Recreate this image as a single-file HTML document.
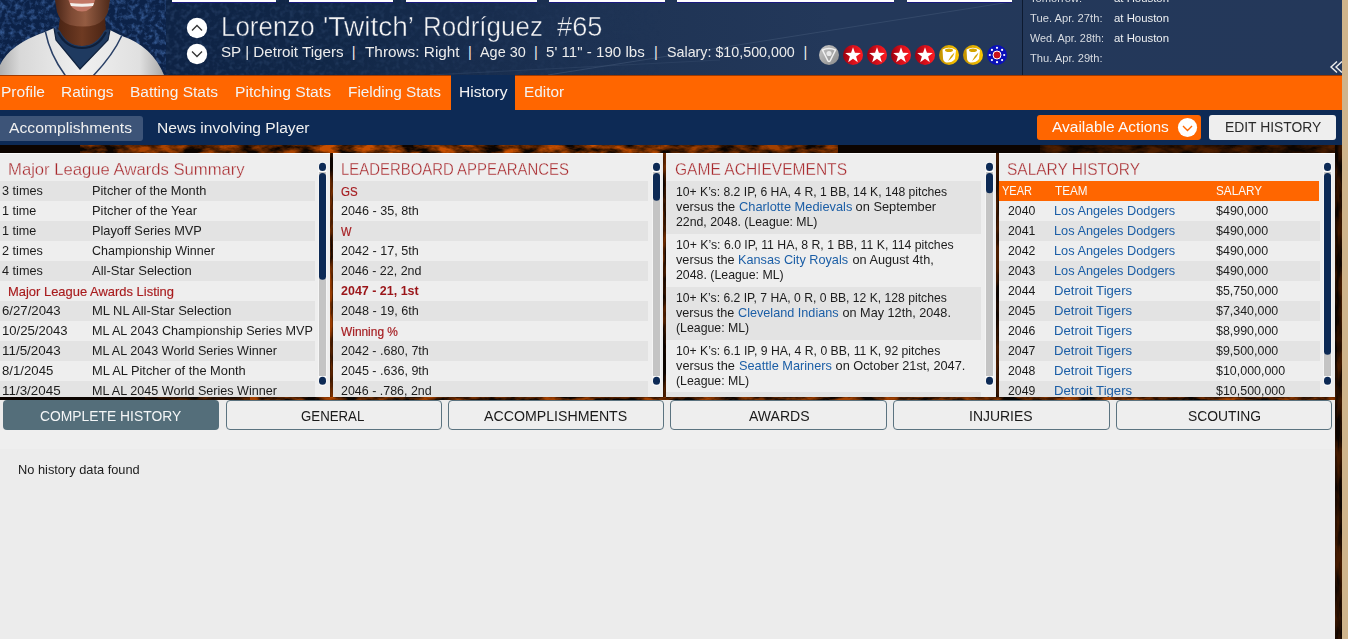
<!DOCTYPE html>
<html><head><meta charset="utf-8"><style>
html,body{margin:0;padding:0;width:1348px;height:639px;overflow:hidden;background:#eeeeee;font-family:"Liberation Sans",sans-serif;}
.r{position:absolute;}
.t{position:absolute;white-space:pre;line-height:1;transform-origin:0 0;}
.d{}
</style></head><body>
<div class="r" style="left:0px;top:0px;width:1342px;height:75px;background:linear-gradient(90deg,#0e2345 0%,#0e2345 13%,#112747 25%,#172c4d 35%,#1f3455 48%,#23385a 62%,#24385a 100%);"></div>
<svg class="r" style="left:0;top:0" width="1342" height="75" viewBox="0 0 1342 75">
<defs>
<radialGradient id="cr" cx="50%" cy="50%" r="50%"><stop offset="0" stop-color="#3a5f95" stop-opacity=".55"/><stop offset="1" stop-color="#3a5f95" stop-opacity="0"/></radialGradient>
</defs>

<defs><filter id="hn" x="0" y="0" width="100%" height="100%" color-interpolation-filters="sRGB"><feTurbulence type="fractalNoise" baseFrequency="0.2" numOctaves="2" seed="5"/><feColorMatrix type="matrix" values="0 0 0 0 0.3  0 0 0 0 0.42  0 0 0 0 0.6  0.9 0 0 0 -0.4"/></filter><linearGradient id="hm" x1="0" x2="1"><stop offset="0" stop-color="#fff" stop-opacity=".9"/><stop offset="1" stop-color="#fff" stop-opacity="0"/></linearGradient><mask id="hmask"><rect x="166" y="0" width="500" height="75" fill="url(#hm)"/></mask></defs><g mask="url(#hmask)"><rect x="166" y="0" width="500" height="75" filter="url(#hn)"/></g><path d="M548 75 L1010 2" stroke="#3b5070" stroke-width="1" opacity=".7"/>
<path d="M430 75 L720 60" stroke="#3b5070" stroke-width="1" opacity=".4"/>
</svg>
<svg class="r" style="left:0;top:0" width="170" height="75" viewBox="0 0 170 75">
<defs>
<filter id="crowd" x="0" y="0" width="100%" height="100%" color-interpolation-filters="sRGB">
<feTurbulence type="fractalNoise" baseFrequency="0.2" numOctaves="3" seed="3"/>
<feColorMatrix type="matrix" values="0 0 0 0 0.2  0 0 0 0 0.34  0 0 0 0 0.56  2.6 0 0 0 -1.15"/>
</filter>
<linearGradient id="skin" x1="0" x2="1"><stop offset="0" stop-color="#4a2618"/><stop offset=".3" stop-color="#7e4a34"/><stop offset=".55" stop-color="#945c42"/><stop offset="1" stop-color="#4e2a1a"/></linearGradient>
<linearGradient id="neck" x1="0" x2="1"><stop offset="0" stop-color="#4a2414"/><stop offset=".5" stop-color="#6e3a22"/><stop offset="1" stop-color="#4a2414"/></linearGradient>
<linearGradient id="jer" x1="0" x2="1"><stop offset="0" stop-color="#b0b0b0"/><stop offset=".12" stop-color="#d8d8d8"/><stop offset=".5" stop-color="#f0f0f0"/><stop offset=".85" stop-color="#e0e0e0"/><stop offset="1" stop-color="#a8a8a8"/></linearGradient>
</defs>
<rect x="0" y="0" width="166" height="75" fill="#0c2248"/>
<rect x="0" y="0" width="166" height="75" filter="url(#crowd)" opacity="1"/>
<path d="M60 18 L105 18 L106 32 Q98 46 82 46 Q66 46 58 32 Z" fill="url(#neck)"/>
<path d="M55 0 L110 0 L108 12 Q104 22 95 25 Q84 28 70 25 Q60 22 57 12 Z" fill="url(#skin)"/>
<path d="M68.5 0 L95 0 Q93 11 82 11.5 Q71 11 68.5 0 Z" fill="#c27866"/>
<path d="M70 3 Q82 4.5 94 3 L93 6 Q82 7.5 71 6 Z" fill="#f4f0ec"/>
<path d="M54 30 Q58 28 60 31 Q68 46 82 46 Q96 46 104 31 Q107 28 110 30 L108 40 L80 69 L56 40 Z" fill="#1f3a60"/>
<path d="M58 32 Q66 48 82 48 Q98 48 106 32" stroke="#0e1f3a" stroke-width="2.2" fill="none"/>
<path d="M0 75 L0 65 Q10 44 45 32 L54 28 L56 40 L80 69 L108 40 L110 30 L122 36 Q152 46 164 75 Z" fill="url(#jer)"/>
<path d="M54 28 L56 40 L80 69 L108 40 L110 30" fill="none" stroke="#10223e" stroke-width="1.2"/>
<path d="M45.5 32 Q50 55 65.7 76" stroke="#2a4066" stroke-width="1.5" fill="none"/>
<path d="M121.6 36 Q113 55 93 76" stroke="#2a4066" stroke-width="1.5" fill="none"/>
</svg>
<div class="r" style="left:172px;top:0px;width:104px;height:1.5px;background:#ffffff;border-bottom:1px solid #1a1a80;"></div>
<div class="r" style="left:289px;top:0px;width:104px;height:1.5px;background:#ffffff;border-bottom:1px solid #1a1a80;"></div>
<div class="r" style="left:406px;top:0px;width:131px;height:1.5px;background:#ffffff;border-bottom:1px solid #1a1a80;"></div>
<div class="r" style="left:549px;top:0px;width:116px;height:1.5px;background:#ffffff;border-bottom:1px solid #1a1a80;"></div>
<div class="r" style="left:677px;top:0px;width:217px;height:1.5px;background:#ffffff;border-bottom:1px solid #1a1a80;"></div>
<div class="r" style="left:907px;top:0px;width:105px;height:1.5px;background:#ffffff;border-bottom:1px solid #1a1a80;"></div>
<svg class="r" style="left:186px;top:17px" width="23" height="48" viewBox="0 0 23 48">
<circle cx="11" cy="11" r="10.2" fill="#fff"/><path d="M6 13.5 L11 8.5 L16 13.5" stroke="#333" stroke-width="1.3" fill="none"/>
<circle cx="11" cy="37" r="10.2" fill="#fff"/><path d="M6 34.5 L11 39.5 L16 34.5" stroke="#333" stroke-width="1.3" fill="none"/>
</svg>
<div class="t" style="left:221.00px;top:13.74px;font-size:27px;color:#f4f4f4;transform:scaleX(0.9603);-webkit-text-stroke:0.5px #1a2f52;">Lorenzo</div>
<div class="t" style="left:323.00px;top:13.74px;font-size:27px;color:#f4f4f4;transform:scaleX(1.0380);-webkit-text-stroke:0.5px #1a2f52;">&#x27;Twitch’</div>
<div class="t" style="left:422.50px;top:13.74px;font-size:27px;color:#f4f4f4;transform:scaleX(0.9633);-webkit-text-stroke:0.5px #1a2f52;">Rodríguez</div>
<div class="t" style="left:556.60px;top:13.74px;font-size:27px;color:#f4f4f4;transform:scaleX(1.0078);-webkit-text-stroke:0.5px #1a2f52;">#65</div>
<div class="t" style="left:221.00px;top:45.03px;font-size:14.5px;color:#ececec;transform:scaleX(1.0467);">SP | Detroit Tigers</div>
<div class="t" style="left:365.20px;top:45.03px;font-size:14.5px;color:#ececec;transform:scaleX(1.0577);">Throws: Right</div>
<div class="t" style="left:480.30px;top:45.03px;font-size:14.5px;color:#ececec;transform:scaleX(0.9944);">Age 30</div>
<div class="t" style="left:546.20px;top:45.03px;font-size:14.5px;color:#ececec;transform:scaleX(1.0433);">5&#x27; 11&quot; - 190 lbs</div>
<div class="t" style="left:666.70px;top:45.03px;font-size:14.5px;color:#ececec;transform:scaleX(0.9847);">Salary: $10,500,000</div>
<div class="t" style="left:351.70px;top:45.03px;font-size:14.5px;color:#ececec;transform:scaleX(1.0000);">|</div>
<div class="t" style="left:468.10px;top:45.03px;font-size:14.5px;color:#ececec;transform:scaleX(1.0000);">|</div>
<div class="t" style="left:533.90px;top:45.03px;font-size:14.5px;color:#ececec;transform:scaleX(1.0000);">|</div>
<div class="t" style="left:654.10px;top:45.03px;font-size:14.5px;color:#ececec;transform:scaleX(1.0000);">|</div>
<div class="t" style="left:803.60px;top:45.03px;font-size:14.5px;color:#ececec;transform:scaleX(1.0000);">|</div>
<svg class="r" style="left:0;top:0" width="1342" height="75" viewBox="0 0 1342 75">
<defs><linearGradient id="rg" x1="0" x2="1"><stop offset="0" stop-color="#9a0010"/><stop offset=".5" stop-color="#d8101a"/><stop offset="1" stop-color="#ff1c22"/></linearGradient>
<linearGradient id="yg" x1="0" x2="1"><stop offset="0" stop-color="#c09000"/><stop offset="1" stop-color="#ffc800"/></linearGradient>
<linearGradient id="gg" x1="0" y1="0" x2="1" y2="1"><stop offset="0" stop-color="#c8c8c8"/><stop offset="1" stop-color="#8a8a8a"/></linearGradient></defs>
<circle cx="829" cy="55" r="10" fill="url(#gg)"/><path d="M822.5 50 Q829 47 835.5 50 L830 61 Q829 62 828 61 Z" fill="none" stroke="#f0f0f0" stroke-width="1.5"/><circle cx="829" cy="53.5" r="2.6" fill="#e8e8e8"/><circle cx="853" cy="55" r="10" fill="url(#rg)"/><path d="M853.00,47.30 L854.93,52.85 L860.80,52.97 L856.12,56.51 L857.82,62.13 L853.00,58.78 L848.18,62.13 L849.88,56.51 L845.20,52.97 L851.07,52.85Z" fill="#fff"/><circle cx="877" cy="55" r="10" fill="url(#rg)"/><path d="M877.00,47.30 L878.93,52.85 L884.80,52.97 L880.12,56.51 L881.82,62.13 L877.00,58.78 L872.18,62.13 L873.88,56.51 L869.20,52.97 L875.07,52.85Z" fill="#fff"/><circle cx="901" cy="55" r="10" fill="url(#rg)"/><path d="M901.00,47.30 L902.93,52.85 L908.80,52.97 L904.12,56.51 L905.82,62.13 L901.00,58.78 L896.18,62.13 L897.88,56.51 L893.20,52.97 L899.07,52.85Z" fill="#fff"/><circle cx="925" cy="55" r="10" fill="url(#rg)"/><path d="M925.00,47.30 L926.93,52.85 L932.80,52.97 L928.12,56.51 L929.82,62.13 L925.00,58.78 L920.18,62.13 L921.88,56.51 L917.20,52.97 L923.07,52.85Z" fill="#fff"/><circle cx="949" cy="55" r="10" fill="url(#yg)"/><path d="M942.5 49.5 Q949 46 956 50 L955 59 Q952 63 946 62.5 Q943 61 943 58 Z" fill="#fff"/><ellipse cx="949" cy="50.2" rx="4" ry="1.8" fill="#d4a400"/><path d="M954.5 52.5 Q953 58 948 61 Q950 56 954.5 52.5 Z" fill="#d4a400"/><circle cx="973" cy="55" r="10" fill="url(#yg)"/><path d="M966.5 49.5 Q973 46 980 50 L979 59 Q976 63 970 62.5 Q967 61 967 58 Z" fill="#fff"/><ellipse cx="973" cy="50.2" rx="4" ry="1.8" fill="#d4a400"/><path d="M978.5 52.5 Q977 58 972 61 Q974 56 978.5 52.5 Z" fill="#d4a400"/><circle cx="997" cy="55" r="10" fill="#0a10b8"/><circle cx="997" cy="55" r="4" fill="#c8101a" stroke="#fff" stroke-width="1"/><circle cx="1004.20" cy="55.00" r="1.1" fill="#fff"/><circle cx="1002.09" cy="60.09" r="1.1" fill="#fff"/><circle cx="997.00" cy="62.20" r="1.1" fill="#fff"/><circle cx="991.91" cy="60.09" r="1.1" fill="#fff"/><circle cx="989.80" cy="55.00" r="1.1" fill="#fff"/><circle cx="991.91" cy="49.91" r="1.1" fill="#fff"/><circle cx="997.00" cy="47.80" r="1.1" fill="#fff"/><circle cx="1002.09" cy="49.91" r="1.1" fill="#fff"/>
<path d="M1022.5 0 V75" stroke="#0d1a30" stroke-width="1"/>
<path d="M1337 61.5 L1331 67 L1337 72.5 M1342 61.5 L1336 67 L1342 72.5" stroke="#eeeeee" stroke-width="1.4" fill="none"/>
</svg>
<div class="t" style="left:1030.20px;top:-7.43px;font-size:11.5px;color:#d8dce2;transform:scaleX(0.9700);">Tomorrow:</div>
<div class="t" style="left:1114.00px;top:-7.43px;font-size:11.5px;color:#eef0f2;transform:scaleX(0.9888);">at Houston</div>
<div class="t" style="left:1030.20px;top:12.57px;font-size:11.5px;color:#d8dce2;transform:scaleX(0.9747);">Tue. Apr. 27th:</div>
<div class="t" style="left:1114.00px;top:12.57px;font-size:11.5px;color:#eef0f2;transform:scaleX(0.9888);">at Houston</div>
<div class="t" style="left:1030.20px;top:32.57px;font-size:11.5px;color:#d8dce2;transform:scaleX(0.9436);">Wed. Apr. 28th:</div>
<div class="t" style="left:1114.00px;top:32.57px;font-size:11.5px;color:#eef0f2;transform:scaleX(0.9888);">at Houston</div>
<div class="t" style="left:1030.20px;top:52.57px;font-size:11.5px;color:#d8dce2;transform:scaleX(0.9692);">Thu. Apr. 29th:</div>
<div class="r" style="left:0px;top:75px;width:1342px;height:1px;background:#a03a00;"></div>
<div class="r" style="left:0px;top:76px;width:1342px;height:34px;background:#ff6600;"></div>
<div class="r" style="left:451px;top:75px;width:64px;height:35px;background:#0d2a55;"></div>
<div class="t" style="left:0.50px;top:83.78px;font-size:15.5px;color:#f4f4f4;transform:scaleX(1.0015);">Profile</div>
<div class="t" style="left:61.00px;top:83.78px;font-size:15.5px;color:#f4f4f4;transform:scaleX(0.9990);">Ratings</div>
<div class="t" style="left:130.00px;top:83.78px;font-size:15.5px;color:#f4f4f4;transform:scaleX(1.0013);">Batting Stats</div>
<div class="t" style="left:235.00px;top:83.78px;font-size:15.5px;color:#f4f4f4;transform:scaleX(1.0130);">Pitching Stats</div>
<div class="t" style="left:348.00px;top:83.78px;font-size:15.5px;color:#f4f4f4;transform:scaleX(0.9903);">Fielding Stats</div>
<div class="t" style="left:458.50px;top:83.78px;font-size:15.5px;color:#f4f4f4;transform:scaleX(1.0057);">History</div>
<div class="t" style="left:524.00px;top:83.78px;font-size:15.5px;color:#f4f4f4;transform:scaleX(0.9879);">Editor</div>
<div class="r" style="left:0px;top:110px;width:1342px;height:35px;background:#0d2a55;"></div>
<div class="r" style="left:0px;top:116px;width:143px;height:25px;background:#3d5478;border-radius:0 3px 3px 0;"></div>
<div class="t" style="left:8.60px;top:119.88px;font-size:15.5px;color:#f0f0f0;transform:scaleX(1.0127);">Accomplishments</div>
<div class="t" style="left:156.70px;top:119.88px;font-size:15.5px;color:#f0f0f0;transform:scaleX(1.0058);">News involving Player</div>
<div class="r" style="left:1037px;top:115px;width:164px;height:25px;background:#ff6600;border-radius:3px;"></div>
<div class="t" style="left:1052.40px;top:118.88px;font-size:15.5px;color:#fafafa;transform:scaleX(0.9991);">Available Actions</div>
<svg class="r" style="left:1177px;top:117px" width="21" height="21" viewBox="0 0 21 21"><circle cx="10.5" cy="10.5" r="9.6" fill="#fff"/><path d="M6 9 L10.5 13.5 L15 9" stroke="#ff6600" stroke-width="1.4" fill="none"/></svg>
<div class="r" style="left:1209px;top:115px;width:127px;height:25px;background:#eeeeee;border-radius:3px;"></div>
<div class="t" style="left:1224.60px;top:118.88px;font-size:15.5px;color:#2a2a2a;transform:scaleX(0.8944);">EDIT HISTORY</div>
<div class="r" style="left:0px;top:145px;width:1342px;height:494px;background:#0c0400;"></div>
<svg class="r" style="left:0;top:145px" width="1342" height="494" viewBox="0 0 1342 494">
<defs>
<filter id="wf7" x="0" y="0" width="100%" height="100%" filterUnits="objectBoundingBox" color-interpolation-filters="sRGB"><feTurbulence type="fractalNoise" baseFrequency="0.05 0.12" numOctaves="4" seed="7"/><feColorMatrix type="matrix" values="0 0 0 0 0.78  0 0 0 0 0.31  0 0 0 0 0  2.4 0 0 0 -0.75"/></filter>
<filter id="wf8" x="0" y="0" width="100%" height="100%" filterUnits="objectBoundingBox" color-interpolation-filters="sRGB"><feTurbulence type="fractalNoise" baseFrequency="0.15 0.03" numOctaves="4" seed="8"/><feColorMatrix type="matrix" values="0 0 0 0 0.78  0 0 0 0 0.31  0 0 0 0 0  2.4 0 0 0 -0.75"/></filter>
<filter id="wf9" x="0" y="0" width="100%" height="100%" filterUnits="objectBoundingBox" color-interpolation-filters="sRGB"><feTurbulence type="fractalNoise" baseFrequency="0.05 0.15" numOctaves="4" seed="9"/><feColorMatrix type="matrix" values="0 0 0 0 0.78  0 0 0 0 0.31  0 0 0 0 0  2.4 0 0 0 -0.75"/></filter>
</defs>
<rect x="80" y="0" width="240" height="8" fill="#c85000" filter="url(#wf7)" opacity="0.85"/><rect x="320" y="0" width="340" height="8" fill="#c85000" filter="url(#wf7)" opacity="1.0"/><rect x="660" y="0" width="178" height="8" fill="#c85000" filter="url(#wf7)" opacity="0.8"/><rect x="1040" y="0" width="295" height="8" fill="#c85000" filter="url(#wf7)" opacity="0.35"/><rect x="330" y="8" width="3" height="245" fill="#c85000" filter="url(#wf8)" opacity="0.75"/><rect x="663" y="8" width="3" height="245" fill="#c85000" filter="url(#wf8)" opacity="0.6"/><rect x="996" y="8" width="3" height="245" fill="#c85000" filter="url(#wf8)" opacity="0.35"/><rect x="145" y="252" width="105" height="3" fill="#c85000" filter="url(#wf9)" opacity="0.4"/><rect x="250" y="252" width="1085" height="3" fill="#c85000" filter="url(#wf9)" opacity="0.8"/><rect x="1335" y="0" width="7" height="494" fill="#c85000" filter="url(#wf8)" opacity="0.3"/>
</svg>
<div class="r" style="left:0px;top:153px;width:330px;height:244px;background:#eeeeee;border-top:1px solid #fbfbfb;box-sizing:border-box;"></div>
<div class="r" style="left:333px;top:153px;width:330px;height:244px;background:#eeeeee;border-top:1px solid #fbfbfb;box-sizing:border-box;"></div>
<div class="r" style="left:666px;top:153px;width:330px;height:244px;background:#eeeeee;border-top:1px solid #fbfbfb;box-sizing:border-box;"></div>
<div class="r" style="left:999px;top:153px;width:336px;height:244px;background:#eeeeee;border-top:1px solid #fbfbfb;box-sizing:border-box;"></div>
<svg class="r" style="left:318.3px;top:162px" width="9" height="225" viewBox="0 0 9 225">
<rect x="0.5" y="0" width="8" height="224" rx="4" fill="#fbfbfb"/>
<rect x="1" y="10" width="7" height="204" fill="#c4c4c4"/>
<rect x="1" y="0.8" width="7" height="8.2" rx="3.5" fill="#0d2a55"/>
<rect x="1" y="11" width="7" height="106.8" rx="3.5" fill="#0d2a55"/>
<rect x="1" y="214.8" width="7" height="8" rx="3.5" fill="#0d2a55"/>
</svg>
<svg class="r" style="left:651.5px;top:162px" width="9" height="225" viewBox="0 0 9 225">
<rect x="0.5" y="0" width="8" height="224" rx="4" fill="#fbfbfb"/>
<rect x="1" y="10" width="7" height="204" fill="#c4c4c4"/>
<rect x="1" y="0.8" width="7" height="8.2" rx="3.5" fill="#0d2a55"/>
<rect x="1" y="11" width="7" height="27.8" rx="3.5" fill="#0d2a55"/>
<rect x="1" y="214.8" width="7" height="8" rx="3.5" fill="#0d2a55"/>
</svg>
<svg class="r" style="left:984.5px;top:162px" width="9" height="225" viewBox="0 0 9 225">
<rect x="0.5" y="0" width="8" height="224" rx="4" fill="#fbfbfb"/>
<rect x="1" y="10" width="7" height="204" fill="#c4c4c4"/>
<rect x="1" y="0.8" width="7" height="8.2" rx="3.5" fill="#0d2a55"/>
<rect x="1" y="11" width="7" height="20.3" rx="3.5" fill="#0d2a55"/>
<rect x="1" y="214.8" width="7" height="8" rx="3.5" fill="#0d2a55"/>
</svg>
<svg class="r" style="left:1323.3px;top:162px" width="9" height="225" viewBox="0 0 9 225">
<rect x="0.5" y="0" width="8" height="224" rx="4" fill="#fbfbfb"/>
<rect x="1" y="10" width="7" height="204" fill="#c4c4c4"/>
<rect x="1" y="0.8" width="7" height="8.2" rx="3.5" fill="#0d2a55"/>
<rect x="1" y="11" width="7" height="181.8" rx="3.5" fill="#0d2a55"/>
<rect x="1" y="214.8" width="7" height="8" rx="3.5" fill="#0d2a55"/>
</svg>
<div class="t" style="left:8.10px;top:160.81px;font-size:17px;color:#a82a2e;transform:scaleX(0.9798);-webkit-text-stroke:0.3px #eeeeee;">Major League Awards Summary</div>
<div class="r" style="left:0;top:153px;width:330px;height:244px;overflow:hidden">
<div class="r" style="left:0px;top:28px;width:315px;height:20px;background:#e3e3e3;"></div>
<div class="t" style="left:2.30px;top:30.90px;font-size:13px;color:#1c1c1c;transform:scaleX(0.9737);">3 times</div>
<div class="t" style="left:92.30px;top:30.90px;font-size:13px;color:#1c1c1c;transform:scaleX(0.9825);">Pitcher of the Month</div>
<div class="t" style="left:2.30px;top:50.90px;font-size:13px;color:#1c1c1c;transform:scaleX(0.9689);">1 time</div>
<div class="t" style="left:92.30px;top:50.90px;font-size:13px;color:#1c1c1c;transform:scaleX(0.9874);">Pitcher of the Year</div>
<div class="r" style="left:0px;top:68px;width:315px;height:20px;background:#e3e3e3;"></div>
<div class="t" style="left:2.30px;top:70.90px;font-size:13px;color:#1c1c1c;transform:scaleX(0.9689);">1 time</div>
<div class="t" style="left:92.30px;top:70.90px;font-size:13px;color:#1c1c1c;transform:scaleX(0.9826);">Playoff Series MVP</div>
<div class="t" style="left:2.30px;top:90.90px;font-size:13px;color:#1c1c1c;transform:scaleX(0.9737);">2 times</div>
<div class="t" style="left:92.30px;top:90.90px;font-size:13px;color:#1c1c1c;transform:scaleX(0.9602);">Championship Winner</div>
<div class="r" style="left:0px;top:108px;width:315px;height:20px;background:#e3e3e3;"></div>
<div class="t" style="left:2.30px;top:110.90px;font-size:13px;color:#1c1c1c;transform:scaleX(0.9737);">4 times</div>
<div class="t" style="left:92.30px;top:110.90px;font-size:13px;color:#1c1c1c;transform:scaleX(0.9999);">All-Star Selection</div>
<div class="t" style="left:8.10px;top:131.50px;font-size:13px;color:#a81c1e;transform:scaleX(0.9959);-webkit-text-stroke:0.15px #a81c1e;">Major League Awards Listing</div>
<div class="r" style="left:0px;top:148px;width:315px;height:20px;background:#e3e3e3;"></div>
<div class="t" style="left:2.30px;top:150.90px;font-size:13px;color:#1c1c1c;transform:scaleX(1.0150);">6/27/2043</div>
<div class="t" style="left:92.30px;top:150.90px;font-size:13px;color:#1c1c1c;transform:scaleX(0.9970);">ML NL All-Star Selection</div>
<div class="t" style="left:2.30px;top:170.90px;font-size:13px;color:#1c1c1c;transform:scaleX(1.0083);">10/25/2043</div>
<div class="t" style="left:92.30px;top:170.90px;font-size:13px;color:#1c1c1c;transform:scaleX(0.9711);">ML AL 2043 Championship Series MVP</div>
<div class="r" style="left:0px;top:188px;width:315px;height:20px;background:#e3e3e3;"></div>
<div class="t" style="left:2.30px;top:190.90px;font-size:13px;color:#1c1c1c;transform:scaleX(1.0322);">11/5/2043</div>
<div class="t" style="left:92.30px;top:190.90px;font-size:13px;color:#1c1c1c;transform:scaleX(0.9686);">ML AL 2043 World Series Winner</div>
<div class="t" style="left:2.30px;top:210.90px;font-size:13px;color:#1c1c1c;transform:scaleX(1.0158);">8/1/2045</div>
<div class="t" style="left:92.30px;top:210.90px;font-size:13px;color:#1c1c1c;transform:scaleX(0.9863);">ML AL Pitcher of the Month</div>
<div class="r" style="left:0px;top:228px;width:315px;height:20px;background:#e3e3e3;"></div>
<div class="t" style="left:2.30px;top:230.90px;font-size:13px;color:#1c1c1c;transform:scaleX(1.0322);">11/3/2045</div>
<div class="t" style="left:92.30px;top:230.90px;font-size:13px;color:#1c1c1c;transform:scaleX(0.9686);">ML AL 2045 World Series Winner</div>
</div>
<div class="t" style="left:341.30px;top:160.61px;font-size:17px;color:#a82a2e;transform:scaleX(0.8776);-webkit-text-stroke:0.3px #eeeeee;">LEADERBOARD APPEARANCES</div>
<div class="r" style="left:333px;top:153px;width:330px;height:244px;overflow:hidden">
<div class="r" style="left:0px;top:28px;width:315px;height:20px;background:#e3e3e3;"></div>
<div class="t" style="left:8.20px;top:31.50px;font-size:13px;color:#a51c20;transform:scaleX(0.8838);-webkit-text-stroke:0.2px #a51c20;">GS</div>
<div class="t" style="left:8.20px;top:50.90px;font-size:13px;color:#1c1c1c;transform:scaleX(0.9685);">2046 - 35, 8th</div>
<div class="r" style="left:0px;top:68px;width:315px;height:20px;background:#e3e3e3;"></div>
<div class="t" style="left:8.20px;top:71.50px;font-size:13px;color:#a51c20;transform:scaleX(0.8557);-webkit-text-stroke:0.2px #a51c20;">W</div>
<div class="t" style="left:8.20px;top:90.90px;font-size:13px;color:#1c1c1c;transform:scaleX(0.9685);">2042 - 17, 5th</div>
<div class="r" style="left:0px;top:108px;width:315px;height:20px;background:#e3e3e3;"></div>
<div class="t" style="left:8.20px;top:110.90px;font-size:13px;color:#1c1c1c;transform:scaleX(0.9601);">2046 - 22, 2nd</div>
<div class="t" style="left:8.20px;top:130.90px;font-size:13px;color:#9a1418;font-weight:bold;transform:scaleX(0.9599);">2047 - 21, 1st</div>
<div class="r" style="left:0px;top:148px;width:315px;height:20px;background:#e3e3e3;"></div>
<div class="t" style="left:8.20px;top:150.90px;font-size:13px;color:#1c1c1c;transform:scaleX(0.9685);">2048 - 19, 6th</div>
<div class="t" style="left:8.20px;top:171.50px;font-size:13px;color:#a51c20;transform:scaleX(0.9157);-webkit-text-stroke:0.2px #a51c20;">Winning %</div>
<div class="r" style="left:0px;top:188px;width:315px;height:20px;background:#e3e3e3;"></div>
<div class="t" style="left:8.20px;top:190.90px;font-size:13px;color:#1c1c1c;transform:scaleX(0.9641);">2042 - .680, 7th</div>
<div class="t" style="left:8.20px;top:210.90px;font-size:13px;color:#1c1c1c;transform:scaleX(0.9641);">2045 - .636, 9th</div>
<div class="r" style="left:0px;top:228px;width:315px;height:20px;background:#e3e3e3;"></div>
<div class="t" style="left:8.20px;top:230.90px;font-size:13px;color:#1c1c1c;transform:scaleX(0.9579);">2046 - .786, 2nd</div>
</div>
<div class="t" style="left:674.50px;top:160.61px;font-size:17px;color:#a82a2e;transform:scaleX(0.9150);-webkit-text-stroke:0.3px #eeeeee;">GAME ACHIEVEMENTS</div>
<div class="r" style="left:666px;top:153px;width:330px;height:244px;overflow:hidden">
<div class="r" style="left:0px;top:28px;width:315px;height:53px;background:#e3e3e3;"></div>
<div class="t" style="left:10.30px;top:32.96px;font-size:12.8px;color:#1c1c1c;transform:scaleX(0.9509);">10+ K’s: 8.2 IP, 6 HA, 4 R, 1 BB, 14 K, 148 pitches</div>
<div class="t" style="left:10.30px;top:47.96px;font-size:12.8px;color:#1c1c1c;transform:scaleX(1.0020);">versus the </div>
<div class="t" style="left:73.03px;top:47.96px;font-size:12.8px;color:#1b5ea6;transform:scaleX(1.0020);">Charlotte Medievals</div>
<div class="t" style="left:186.37px;top:47.96px;font-size:12.8px;color:#1c1c1c;transform:scaleX(1.0020);"> on September</div>
<div class="t" style="left:10.30px;top:62.96px;font-size:12.8px;color:#1c1c1c;transform:scaleX(0.9606);">22nd, 2048. (League: ML)</div>
<div class="t" style="left:10.30px;top:85.96px;font-size:12.8px;color:#1c1c1c;transform:scaleX(0.9593);">10+ K’s: 6.0 IP, 11 HA, 8 R, 1 BB, 11 K, 114 pitches</div>
<div class="t" style="left:10.30px;top:100.96px;font-size:12.8px;color:#1c1c1c;transform:scaleX(0.9923);">versus the </div>
<div class="t" style="left:72.43px;top:100.96px;font-size:12.8px;color:#1b5ea6;transform:scaleX(0.9923);">Kansas City Royals</div>
<div class="t" style="left:182.55px;top:100.96px;font-size:12.8px;color:#1c1c1c;transform:scaleX(0.9923);"> on August 4th,</div>
<div class="t" style="left:10.30px;top:115.96px;font-size:12.8px;color:#1c1c1c;transform:scaleX(0.9640);">2048. (League: ML)</div>
<div class="r" style="left:0px;top:134px;width:315px;height:53px;background:#e3e3e3;"></div>
<div class="t" style="left:10.30px;top:138.96px;font-size:12.8px;color:#1c1c1c;transform:scaleX(0.9495);">10+ K’s: 6.2 IP, 7 HA, 0 R, 0 BB, 12 K, 128 pitches</div>
<div class="t" style="left:10.30px;top:153.96px;font-size:12.8px;color:#1c1c1c;transform:scaleX(0.9892);">versus the </div>
<div class="t" style="left:72.23px;top:153.96px;font-size:12.8px;color:#1b5ea6;transform:scaleX(0.9892);">Cleveland Indians</div>
<div class="t" style="left:172.88px;top:153.96px;font-size:12.8px;color:#1c1c1c;transform:scaleX(0.9892);"> on May 12th, 2048.</div>
<div class="t" style="left:10.30px;top:168.96px;font-size:12.8px;color:#1c1c1c;transform:scaleX(0.9615);">(League: ML)</div>
<div class="t" style="left:10.30px;top:191.96px;font-size:12.8px;color:#1c1c1c;transform:scaleX(0.9537);">10+ K’s: 6.1 IP, 9 HA, 4 R, 0 BB, 11 K, 92 pitches</div>
<div class="t" style="left:10.30px;top:206.96px;font-size:12.8px;color:#1c1c1c;transform:scaleX(0.9970);">versus the </div>
<div class="t" style="left:72.72px;top:206.96px;font-size:12.8px;color:#1b5ea6;transform:scaleX(0.9970);">Seattle Mariners</div>
<div class="t" style="left:165.63px;top:206.96px;font-size:12.8px;color:#1c1c1c;transform:scaleX(0.9970);"> on October 21st, 2047.</div>
<div class="t" style="left:10.30px;top:221.96px;font-size:12.8px;color:#1c1c1c;transform:scaleX(0.9615);">(League: ML)</div>
<div class="r" style="left:0px;top:239px;width:315px;height:20px;background:#e3e3e3;"></div>
</div>
<div class="t" style="left:1007.30px;top:160.61px;font-size:17px;color:#a82a2e;transform:scaleX(0.9101);-webkit-text-stroke:0.3px #eeeeee;">SALARY HISTORY</div>
<div class="r" style="left:999px;top:153px;width:336px;height:244px;overflow:hidden">
<div class="r" style="left:0px;top:28px;width:320px;height:20px;background:#ff6600;"></div>
<div class="t" style="left:2.90px;top:31.00px;font-size:13px;color:#fafafa;transform:scaleX(0.8474);">YEAR</div>
<div class="t" style="left:56.00px;top:31.00px;font-size:13px;color:#fafafa;transform:scaleX(0.9028);">TEAM</div>
<div class="t" style="left:216.70px;top:31.00px;font-size:13px;color:#fafafa;transform:scaleX(0.9027);">SALARY</div>
<div class="t" style="left:8.50px;top:50.90px;font-size:13px;color:#1c1c1c;transform:scaleX(0.9440);">2040</div>
<div class="t" style="left:55.30px;top:50.90px;font-size:13px;color:#1b5ea6;transform:scaleX(0.9807);">Los Angeles Dodgers</div>
<div class="t" style="left:216.80px;top:50.90px;font-size:13px;color:#1c1c1c;transform:scaleX(0.9609);">$490,000</div>
<div class="r" style="left:0px;top:68px;width:321px;height:20px;background:#e3e3e3;"></div>
<div class="t" style="left:8.50px;top:70.90px;font-size:13px;color:#1c1c1c;transform:scaleX(0.9440);">2041</div>
<div class="t" style="left:55.30px;top:70.90px;font-size:13px;color:#1b5ea6;transform:scaleX(0.9807);">Los Angeles Dodgers</div>
<div class="t" style="left:216.80px;top:70.90px;font-size:13px;color:#1c1c1c;transform:scaleX(0.9609);">$490,000</div>
<div class="t" style="left:8.50px;top:90.90px;font-size:13px;color:#1c1c1c;transform:scaleX(0.9440);">2042</div>
<div class="t" style="left:55.30px;top:90.90px;font-size:13px;color:#1b5ea6;transform:scaleX(0.9807);">Los Angeles Dodgers</div>
<div class="t" style="left:216.80px;top:90.90px;font-size:13px;color:#1c1c1c;transform:scaleX(0.9609);">$490,000</div>
<div class="r" style="left:0px;top:108px;width:321px;height:20px;background:#e3e3e3;"></div>
<div class="t" style="left:8.50px;top:110.90px;font-size:13px;color:#1c1c1c;transform:scaleX(0.9440);">2043</div>
<div class="t" style="left:55.30px;top:110.90px;font-size:13px;color:#1b5ea6;transform:scaleX(0.9807);">Los Angeles Dodgers</div>
<div class="t" style="left:216.80px;top:110.90px;font-size:13px;color:#1c1c1c;transform:scaleX(0.9609);">$490,000</div>
<div class="t" style="left:8.50px;top:130.90px;font-size:13px;color:#1c1c1c;transform:scaleX(0.9440);">2044</div>
<div class="t" style="left:55.30px;top:130.90px;font-size:13px;color:#1b5ea6;transform:scaleX(1.0103);">Detroit Tigers</div>
<div class="t" style="left:216.80px;top:130.90px;font-size:13px;color:#1c1c1c;transform:scaleX(0.9560);">$5,750,000</div>
<div class="r" style="left:0px;top:148px;width:321px;height:20px;background:#e3e3e3;"></div>
<div class="t" style="left:8.50px;top:150.90px;font-size:13px;color:#1c1c1c;transform:scaleX(0.9440);">2045</div>
<div class="t" style="left:55.30px;top:150.90px;font-size:13px;color:#1b5ea6;transform:scaleX(1.0103);">Detroit Tigers</div>
<div class="t" style="left:216.80px;top:150.90px;font-size:13px;color:#1c1c1c;transform:scaleX(0.9560);">$7,340,000</div>
<div class="t" style="left:8.50px;top:170.90px;font-size:13px;color:#1c1c1c;transform:scaleX(0.9440);">2046</div>
<div class="t" style="left:55.30px;top:170.90px;font-size:13px;color:#1b5ea6;transform:scaleX(1.0103);">Detroit Tigers</div>
<div class="t" style="left:216.80px;top:170.90px;font-size:13px;color:#1c1c1c;transform:scaleX(0.9560);">$8,990,000</div>
<div class="r" style="left:0px;top:188px;width:321px;height:20px;background:#e3e3e3;"></div>
<div class="t" style="left:8.50px;top:190.90px;font-size:13px;color:#1c1c1c;transform:scaleX(0.9440);">2047</div>
<div class="t" style="left:55.30px;top:190.90px;font-size:13px;color:#1b5ea6;transform:scaleX(1.0103);">Detroit Tigers</div>
<div class="t" style="left:216.80px;top:190.90px;font-size:13px;color:#1c1c1c;transform:scaleX(0.9560);">$9,500,000</div>
<div class="t" style="left:8.50px;top:210.90px;font-size:13px;color:#1c1c1c;transform:scaleX(0.9440);">2048</div>
<div class="t" style="left:55.30px;top:210.90px;font-size:13px;color:#1b5ea6;transform:scaleX(1.0103);">Detroit Tigers</div>
<div class="t" style="left:216.80px;top:210.90px;font-size:13px;color:#1c1c1c;transform:scaleX(0.9572);">$10,000,000</div>
<div class="r" style="left:0px;top:228px;width:321px;height:20px;background:#e3e3e3;"></div>
<div class="t" style="left:8.50px;top:230.90px;font-size:13px;color:#1c1c1c;transform:scaleX(0.9440);">2049</div>
<div class="t" style="left:55.30px;top:230.90px;font-size:13px;color:#1b5ea6;transform:scaleX(1.0103);">Detroit Tigers</div>
<div class="t" style="left:216.80px;top:230.90px;font-size:13px;color:#1c1c1c;transform:scaleX(0.9572);">$10,500,000</div>
</div>
<div class="r" style="left:0px;top:400px;width:1335px;height:239px;background:#ececec;"></div>
<div class="r" style="left:0px;top:430px;width:1335px;height:19px;background:#efefef;"></div>
<div class="r" style="left:3px;top:400px;width:216px;height:30px;background:#546e7a;border-radius:4px;"></div>
<div class="t" style="left:40.40px;top:407.80px;font-size:15px;color:#f4f6f7;transform:scaleX(0.9240);">COMPLETE HISTORY</div>
<div class="r" style="left:226px;top:400px;width:216px;height:30px;background:#eeeeee;border:1px solid #5b7380;border-radius:4px;box-sizing:border-box;"></div>
<div class="t" style="left:301.00px;top:407.80px;font-size:15px;color:#1a1a1a;transform:scaleX(0.8830);">GENERAL</div>
<div class="r" style="left:448px;top:400px;width:216px;height:30px;background:#eeeeee;border:1px solid #5b7380;border-radius:4px;box-sizing:border-box;"></div>
<div class="t" style="left:484.40px;top:407.80px;font-size:15px;color:#1a1a1a;transform:scaleX(0.9441);">ACCOMPLISHMENTS</div>
<div class="r" style="left:670px;top:400px;width:217px;height:30px;background:#eeeeee;border:1px solid #5b7380;border-radius:4px;box-sizing:border-box;"></div>
<div class="t" style="left:748.70px;top:407.80px;font-size:15px;color:#1a1a1a;transform:scaleX(0.9363);">AWARDS</div>
<div class="r" style="left:893px;top:400px;width:217px;height:30px;background:#eeeeee;border:1px solid #5b7380;border-radius:4px;box-sizing:border-box;"></div>
<div class="t" style="left:969.20px;top:407.80px;font-size:15px;color:#1a1a1a;transform:scaleX(0.9306);">INJURIES</div>
<div class="r" style="left:1116px;top:400px;width:216px;height:30px;background:#eeeeee;border:1px solid #5b7380;border-radius:4px;box-sizing:border-box;"></div>
<div class="t" style="left:1187.70px;top:407.80px;font-size:15px;color:#1a1a1a;transform:scaleX(0.9234);">SCOUTING</div>
<div class="t" style="left:18.00px;top:463.00px;font-size:13px;color:#1c1c1c;transform:scaleX(0.9850);">No history data found</div>
<div class="r" style="left:1342px;top:0px;width:6px;height:639px;background:#cfb48c;"></div>
</body></html>
